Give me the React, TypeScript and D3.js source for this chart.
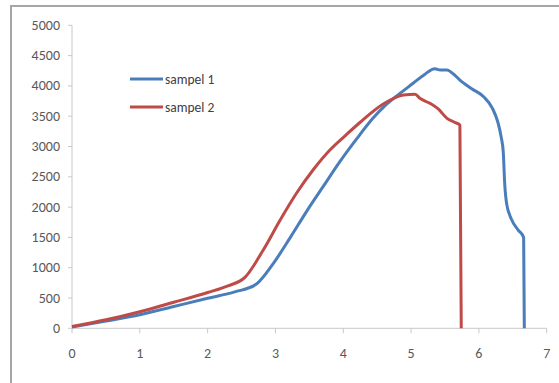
import * as d3 from "d3";

// sampel 1 (blue)
const s1X = [0, 0.5, 1, 1.5, 2, 2.4, 2.72, 2.97, 3.22, 3.46, 3.71, 3.95, 4.2, 4.44, 4.64, 4.84, 5.03, 5.2, 5.35, 5.43, 5.53, 5.62, 5.72, 5.9, 6.07, 6.2, 6.28, 6.33, 6.36, 6.38, 6.41, 6.48, 6.58, 6.66, 6.67];
const s1Y = [20, 120, 225, 360, 495, 600, 730, 1072, 1500, 1930, 2350, 2750, 3130, 3470, 3700, 3880, 4043, 4190, 4285, 4262, 4262, 4200, 4097, 3950, 3821, 3630, 3400, 3150, 2900, 2400, 2050, 1800, 1620, 1500, 0];

// sampel 2 (red)
const s2X = [0, 0.5, 1, 1.5, 2, 2.3, 2.55, 2.82, 3.07, 3.31, 3.56, 3.81, 4.05, 4.25, 4.59, 4.89, 5.06, 5.13, 5.28, 5.4, 5.53, 5.64, 5.72, 5.74];
const s2Y = [30, 140, 274, 430, 590, 700, 840, 1292, 1787, 2228, 2620, 2950, 3200, 3400, 3700, 3850, 3861, 3795, 3712, 3620, 3465, 3400, 3355, 0];

const xTicks = [0, 1, 2, 3, 4, 5, 6, 7];
const yTicks = [0, 500, 1000, 1500, 2000, 2500, 3000, 3500, 4000, 4500, 5000];

const seriesNames = ["sampel 1", "sampel 2"];
const seriesColors = ["#4a7ebb", "#be4b48"];

const W = 559;
const H = 383;

export default function App() {
  const x = d3.scaleLinear().domain([0, 7]).range([72, 546.7]);
  const y = d3.scaleLinear().domain([0, 5000]).range([328.3, 25.3]);

  const line = d3
    .line<[number, number]>()
    .x((d) => x(d[0]))
    .y((d) => y(d[1]))
    .curve(d3.curveMonotoneX);

  const series = [
    s1X.map((v, i) => [v, s1Y[i]] as [number, number]),
    s2X.map((v, i) => [v, s2Y[i]] as [number, number]),
  ];

  const font = "Carlito, 'Open Sans', 'Liberation Sans', sans-serif";
  const axisColor = "#c8c8c8";

  return (
    <svg
      width={W}
      height={H}
      style={{ position: "absolute", left: 0, top: 0, background: "#fff" }}
      fontFamily={font}
    >
      {/* chart frame, only left and top visible */}
      <rect x={11} y={6} width={W} height={H} fill="#fff" stroke="#a6a6a6" strokeWidth={2} />

      {/* y axis */}
      <line x1={x(0)} x2={x(0)} y1={y(5000)} y2={y(0)} stroke={axisColor} />
      {yTicks.map((t) => (
        <g key={"y" + t}>
          <line x1={x(0) - 4} x2={x(0)} y1={y(t)} y2={y(t)} stroke={axisColor} />
          <text
            x={60}
            y={y(t)}
            textAnchor="end"
            dominantBaseline="central"
            fontSize={14}
            fill="#595959"
          >
            {t}
          </text>
        </g>
      ))}

      {/* x axis */}
      <line x1={x(0)} x2={x(7)} y1={y(0)} y2={y(0)} stroke={axisColor} />
      {xTicks.map((t) => (
        <g key={"x" + t}>
          <line x1={x(t)} x2={x(t)} y1={y(0)} y2={y(0) + 5} stroke={axisColor} />
          <text
            x={x(t)}
            y={353}
            textAnchor="middle"
            dominantBaseline="central"
            fontSize={14}
            fill="#595959"
          >
            {t}
          </text>
        </g>
      ))}

      {series.map((s, i) => (
        <path
          key={seriesNames[i]}
          d={line(s) ?? ""}
          fill="none"
          stroke={seriesColors[i]}
          strokeWidth={3}
          strokeLinejoin="round"
        />
      ))}

      {/* legend */}
      {seriesNames.map((n, i) => (
        <g key={"leg" + n} transform={`translate(130, ${79 + i * 28})`}>
          <line x1={0} x2={33} y1={0} y2={0} stroke={seriesColors[i]} strokeWidth={3} />
          <text x={35} y={0} dominantBaseline="central" fontSize={13.5} fill="#404040">
            {n}
          </text>
        </g>
      ))}
    </svg>
  );
}
